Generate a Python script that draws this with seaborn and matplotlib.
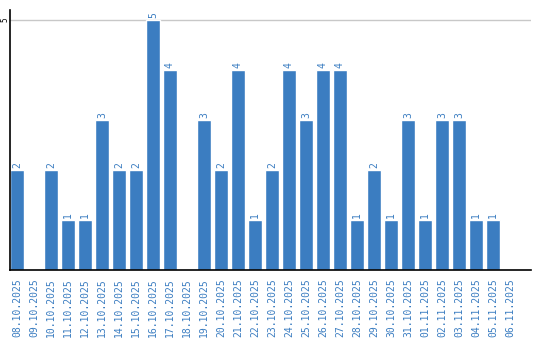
import matplotlib
matplotlib.use("Agg")
import matplotlib.pyplot as plt
import seaborn as sns
import pandas as pd

dates = ["08.10.2025", "09.10.2025", "10.10.2025", "11.10.2025", "12.10.2025",
         "13.10.2025", "14.10.2025", "15.10.2025", "16.10.2025", "17.10.2025",
         "18.10.2025", "19.10.2025", "20.10.2025", "21.10.2025", "22.10.2025",
         "23.10.2025", "24.10.2025", "25.10.2025", "26.10.2025", "27.10.2025",
         "28.10.2025", "29.10.2025", "30.10.2025", "31.10.2025", "01.11.2025",
         "02.11.2025", "03.11.2025", "04.11.2025", "05.11.2025", "06.11.2025"]
counts = [2, 0, 2, 1, 1, 3, 2, 2, 5, 4,
          0, 3, 2, 4, 1, 2, 4, 3, 4, 4,
          1, 2, 1, 3, 1, 3, 3, 1, 1, 0]
y_ticks = [5]

bar_color = "#3b7dc1"
df = pd.DataFrame({"date": dates, "count": counts})

sns.set_style("white")
plt.rcParams['font.family'] = ['DejaVu Sans Mono', 'DejaVu Sans']

fig = plt.figure(figsize=(5.4, 3.4), dpi=100)
ax = fig.add_axes([10/540, 70/340, 521/540, 260/340])

sns.barplot(data=df, x="date", y="count", color=bar_color, saturation=1,
            width=0.82, ax=ax, order=dates)

for i, v in enumerate(counts):
    if v > 0:
        ax.text(i, v + 0.04, str(v), rotation=90, ha="center", va="bottom",
                color=bar_color, fontsize=7)

ax.set_ylim(0, 5.2)
ax.set_xlim(-0.41, 30.24)
ax.set_yticks(y_ticks)
ax.set_yticklabels([str(t) for t in y_ticks], rotation=90, va="center",
                   fontsize=5.5, color="black")
ax.yaxis.grid(True, color="#c8c8c8", linewidth=1)
ax.set_axisbelow(True)
ax.tick_params(axis="y", length=0, pad=0.5)
ax.tick_params(axis="x", length=0, pad=6, labelrotation=90, labelsize=7,
               labelcolor=bar_color)
ax.set_xlabel("")
ax.set_ylabel("")
for s in ["top", "right"]:
    ax.spines[s].set_visible(False)
ax.spines["left"].set_color("black")
ax.spines["bottom"].set_color("black")
ax.spines["left"].set_linewidth(1.2)
ax.spines["bottom"].set_linewidth(1.2)

fig.savefig("out.png", dpi=100)
